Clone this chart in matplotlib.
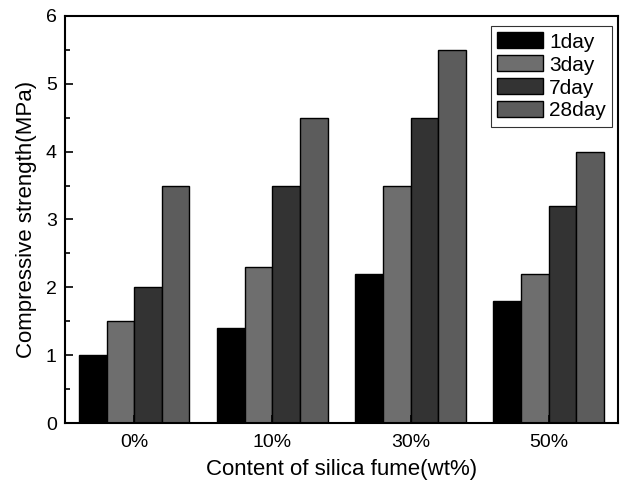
import matplotlib
matplotlib.use("Agg")
import matplotlib.pyplot as plt
import numpy as np
from matplotlib.ticker import MultipleLocator

plt.rcParams['font.family'] = ['Liberation Sans', 'DejaVu Sans']

categories = ['0%', '10%', '30%', '50%']
series_names = ['1day', '3day', '7day', '28day']
day1 = [1.0, 1.4, 2.2, 1.8]
day3 = [1.5, 2.3, 3.5, 2.2]
day7 = [2.0, 3.5, 4.5, 3.2]
day28 = [3.5, 4.5, 5.5, 4.0]
series = [day1, day3, day7, day28]
colors = ['#000000', '#6e6e6e', '#333333', '#5c5c5c']

fig = plt.figure(figsize=(6.26, 4.84), dpi=100)
ax = fig.add_axes([0.104, 0.126, 0.883, 0.841])

x = np.arange(1, len(categories) + 1)
w = 0.2
for i, (vals, name, c) in enumerate(zip(series, series_names, colors)):
    ax.bar(x + (i - 1.5) * w, vals, width=w, color=c, edgecolor='black',
           linewidth=1.0, label=name)

ax.set_xlim(0.5, 4.5)
ax.set_ylim(0, 6)
ax.set_xticks(x)
ax.set_xticklabels(categories)
ax.yaxis.set_major_locator(MultipleLocator(1))
ax.yaxis.set_minor_locator(MultipleLocator(0.5))
ax.tick_params(axis='both', which='both', direction='in', labelsize=14, top=False, right=False)
ax.tick_params(axis='y', which='major', length=6, width=1.2, pad=6)
ax.tick_params(axis='y', which='minor', length=3.5, width=1.2)
ax.tick_params(axis='x', which='major', length=6, width=1.2, pad=8)
for s in ax.spines.values():
    s.set_linewidth(1.5)

ax.set_xlabel('Content of silica fume(wt%)', fontsize=16, labelpad=6)
ax.set_ylabel('Compressive strength(MPa)', fontsize=16, labelpad=6)

leg = ax.legend(loc='upper right', bbox_to_anchor=(0.99, 0.975), fontsize=15,
                frameon=True, fancybox=False, edgecolor='black',
                handlelength=2.2, handleheight=0.8, borderaxespad=0.0,
                borderpad=0.3, labelspacing=0.18, handletextpad=0.3)
leg.get_frame().set_linewidth(0.8)

fig.savefig('out.png', dpi=100)
